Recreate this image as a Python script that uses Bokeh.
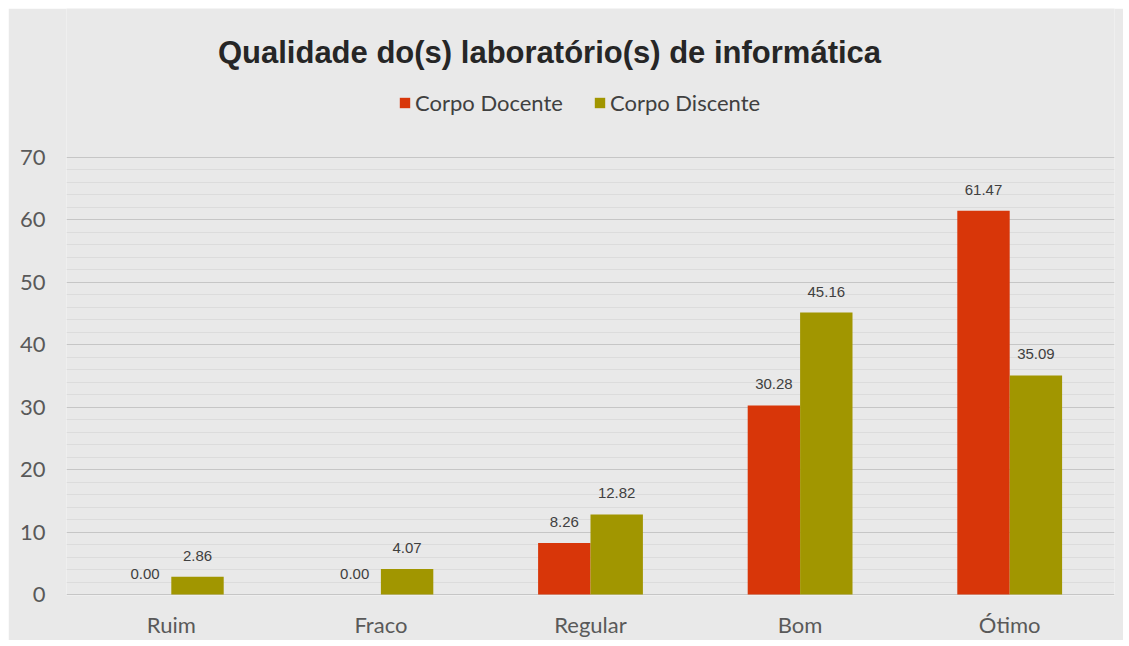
from bokeh.plotting import figure
from bokeh.models import (ColumnDataSource, Range1d, FactorRange, LabelSet, Label,
                          Legend, LegendItem, FixedTicker)
from bokeh.transform import dodge
from bokeh.core.properties import value
from bokeh.embed import file_html
from bokeh.resources import INLINE

categories = ["Ruim", "Fraco", "Regular", "Bom", "Ótimo"]
docente = [0.00, 0.00, 8.26, 30.28, 61.47]
discente = [2.86, 4.07, 12.82, 45.16, 35.09]
series_names = ["Corpo Docente", "Corpo Discente"]
title_text = "Qualidade do(s) laboratório(s) de informática"
major_ticks = [0, 10, 20, 30, 40, 50, 60, 70]
minor_ticks = [v for v in range(2, 70, 2) if v % 10 != 0]

RED = "#d83609"
OLIVE = "#a19600"
BG = "#e9e9e9"

src = ColumnDataSource(dict(
    cat=categories,
    doc=docente,
    dis=discente,
    doc_lbl=[f"{v:.2f}" for v in docente],
    dis_lbl=[f"{v:.2f}" for v in discente],
))

p = figure(width=1115, height=632, output_backend="svg", toolbar_location=None,
           x_range=FactorRange(factors=categories, range_padding=0),
           y_range=Range1d(-0.16, 93.87),
           min_border_left=58, min_border_right=9, min_border_top=0, min_border_bottom=45)
p.margin = (8, 0, 0, 8)

p.background_fill_color = BG
p.border_fill_color = BG
p.outline_line_color = None

r1 = p.vbar(x=dodge("cat", -0.125, range=p.x_range), top="doc", width=0.25, source=src,
            fill_color=RED, line_color=None)
r2 = p.vbar(x=dodge("cat", 0.125, range=p.x_range), top="dis", width=0.25, source=src,
            fill_color=OLIVE, line_color=None)

lbl_kw = dict(source=src, text_align="center", text_baseline="alphabetic", y_offset=16,
              text_font=value("Liberation Sans"), text_font_size="15px", text_color="#404040")
p.add_layout(LabelSet(x=dodge("cat", -0.125, range=p.x_range), y="doc", text="doc_lbl", **lbl_kw))
p.add_layout(LabelSet(x=dodge("cat", 0.125, range=p.x_range), y="dis", text="dis_lbl", **lbl_kw))

# axes
p.yaxis.ticker = FixedTicker(ticks=major_ticks, minor_ticks=minor_ticks)
for ax in (p.xaxis[0], p.yaxis[0]):
    ax.axis_line_color = None
    ax.major_tick_line_color = None
    ax.minor_tick_line_color = None
    ax.major_tick_out = 0
    ax.minor_tick_out = 0
    ax.major_label_text_font = "Lato"
    ax.major_label_text_font_size = "22px"
    ax.major_label_text_color = "#595959"
p.yaxis.major_label_standoff = 21
p.xaxis.major_label_standoff = 15

p.xgrid.grid_line_color = None
p.ygrid.grid_line_color = "#c6c6c6"
p.ygrid.grid_line_width = 1
p.ygrid.minor_grid_line_color = "#dcdcdc"
p.ygrid.minor_grid_line_width = 1

# title
p.add_layout(Label(x=483, y=543, x_units="screen", y_units="screen", text=title_text,
                   text_align="center", text_baseline="middle",
                   text_font="Liberation Sans", text_font_style="bold",
                   text_font_size="31px", text_color="#262626"))

legend = Legend(items=[LegendItem(label=series_names[0], renderers=[r1]),
                       LegendItem(label=series_names[1], renderers=[r2])],
                location=(332, 479), orientation="horizontal",
                glyph_width=13, glyph_height=13, label_standoff=4, spacing=30,
                padding=0, margin=0, border_line_color=None, background_fill_alpha=0,
                label_text_font="Lato", label_text_font_size="22px",
                label_text_color="#404040")
p.add_layout(legend, "center")

open("out.html", "w").write(file_html(p, INLINE))
